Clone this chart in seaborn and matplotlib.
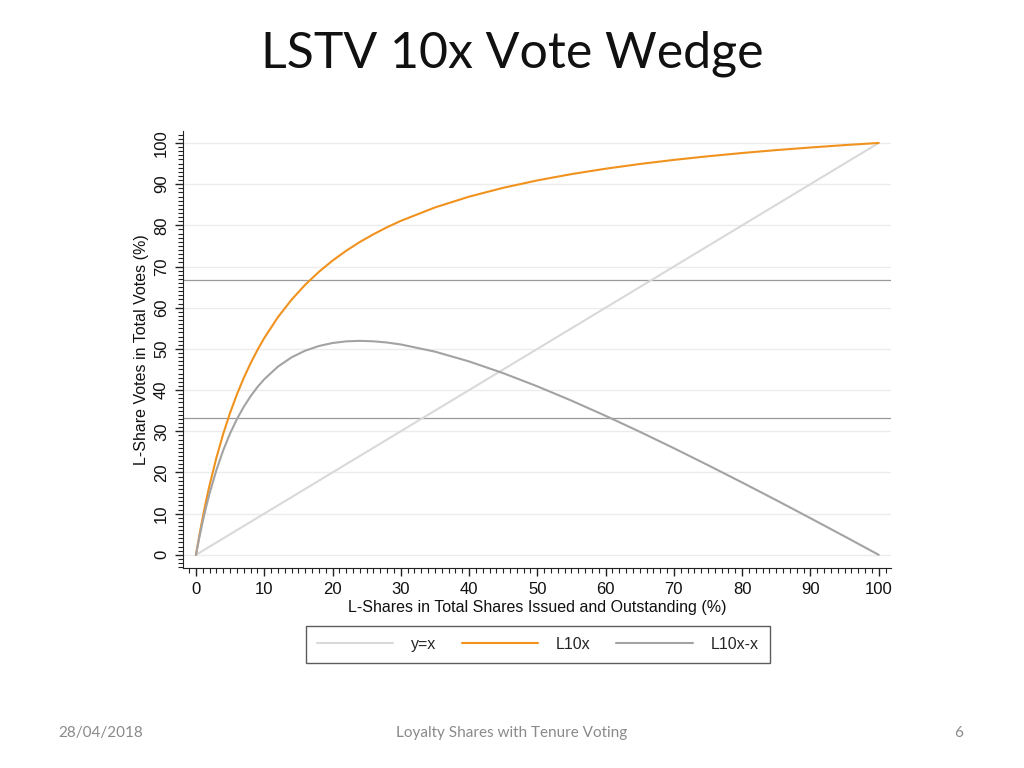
import matplotlib
matplotlib.use("Agg")
import matplotlib.pyplot as plt
import seaborn as sns
import numpy as np
import pandas as pd
from matplotlib.ticker import MultipleLocator

# Data
x_share = [0, 0.5, 1, 1.5, 2, 3, 4, 5, 6, 7, 8, 9, 10, 12, 14, 16, 18, 20, 22, 24,
           26, 28, 30, 35, 40, 45, 50, 55, 60, 65, 70, 75, 80, 85, 90, 95, 100]
y_equal = list(x_share)
l10x = [0, 4.78, 9.17, 13.22, 16.95, 23.62, 29.41, 34.48, 38.96, 42.94, 46.51, 49.72,
        52.63, 57.69, 61.95, 65.57, 68.70, 71.43, 73.83, 75.95, 77.84, 79.55, 81.08,
        84.34, 86.96, 89.11, 90.91, 92.44, 93.75, 94.89, 95.89, 96.77, 97.56, 98.27,
        98.90, 99.48, 100]
l10x_minus_x = [0, 4.28, 8.17, 11.72, 14.95, 20.62, 25.41, 29.48, 32.96, 35.94, 38.51,
                40.72, 42.63, 45.69, 47.95, 49.57, 50.70, 51.43, 51.83, 51.95, 51.84,
                51.55, 51.08, 49.34, 46.96, 44.11, 40.91, 37.44, 33.75, 29.89, 25.89,
                21.77, 17.56, 13.27, 8.90, 4.48, 0]
thresholds = [33.33, 66.67]
series_names = ["y=x", "L10x", "L10x-x"]
x_ticks = [0, 10, 20, 30, 40, 50, 60, 70, 80, 90, 100]
y_ticks = [0, 10, 20, 30, 40, 50, 60, 70, 80, 90, 100]

sns.set_style("ticks")
plt.rcParams['font.family'] = ['Liberation Sans', 'DejaVu Sans']

fig = plt.figure(figsize=(10.24, 7.68), dpi=100)
ax = fig.add_axes([0.1787, 0.2604, 0.6914, 0.569])

df = pd.DataFrame({"x": x_share, "y=x": y_equal, "L10x": l10x, "L10x-x": l10x_minus_x})
colors = {"y=x": "#d9d9d9", "L10x": "#f0921e", "L10x-x": "#a3a3a3"}

for yv in y_ticks:
    ax.axhline(yv, color="#ececec", lw=1.0, zorder=0)
for t in thresholds:
    ax.axhline(t, color="#9a9a9a", lw=0.9, zorder=1)

for name in series_names:
    sns.lineplot(data=df, x="x", y=name, ax=ax, color=colors[name], lw=1.5,
                 label=name, zorder=3)

ax.set_xlim(-1.9, 101.8)
ax.set_ylim(-3.2, 102.9)
ax.set_xticks(x_ticks)
ax.set_yticks(y_ticks)
ax.xaxis.set_minor_locator(MultipleLocator(1))
ax.yaxis.set_minor_locator(MultipleLocator(1))
ax.tick_params(axis="both", which="major", length=6, width=1, color="#222222",
               labelsize=12, pad=4, labelcolor="#111111")
ax.tick_params(axis="both", which="minor", length=3.5, width=0.8, color="#222222")
for lbl in ax.get_yticklabels():
    lbl.set_rotation(90)
    lbl.set_va("center")
ax.spines["top"].set_visible(False)
ax.spines["right"].set_visible(False)
ax.spines["left"].set_color("#222222")
ax.spines["bottom"].set_color("#222222")
ax.set_xlabel("L-Shares in Total Shares Issued and Outstanding (%)", fontsize=11.5,
              labelpad=2, color="#111111")
ax.set_ylabel("L-Share Votes in Total Votes (%)", fontsize=11.5, labelpad=4,
              color="#111111")

handles, labels = ax.get_legend_handles_labels()
ax.get_legend().remove()
leg = fig.legend(handles, labels, loc="center", bbox_to_anchor=(0.525, 0.1608),
                 ncol=3, frameon=True, fancybox=False, fontsize=11.5,
                 handlelength=4.8, handletextpad=1.1, columnspacing=1.6,
                 borderpad=0.7, edgecolor="#333333")
leg.get_frame().set_linewidth(1.0)

fig.text(0.5, 0.93, "LSTV 10x Vote Wedge", ha="center", va="center",
         fontsize=36, family=["Lato", "DejaVu Sans"], color="#111111")
fig.text(0.0566, 0.045, "28/04/2018", ha="left", va="center", fontsize=11,
         family=["Lato", "DejaVu Sans"], color="#8a8a8a")
fig.text(0.5, 0.045, "Loyalty Shares with Tenure Voting", ha="center", va="center",
         fontsize=11, family=["Lato", "DejaVu Sans"], color="#8a8a8a")
fig.text(0.936, 0.045, "6", ha="center", va="center", fontsize=11,
         family=["Lato", "DejaVu Sans"], color="#8a8a8a")

fig.savefig("out.png", dpi=100)
